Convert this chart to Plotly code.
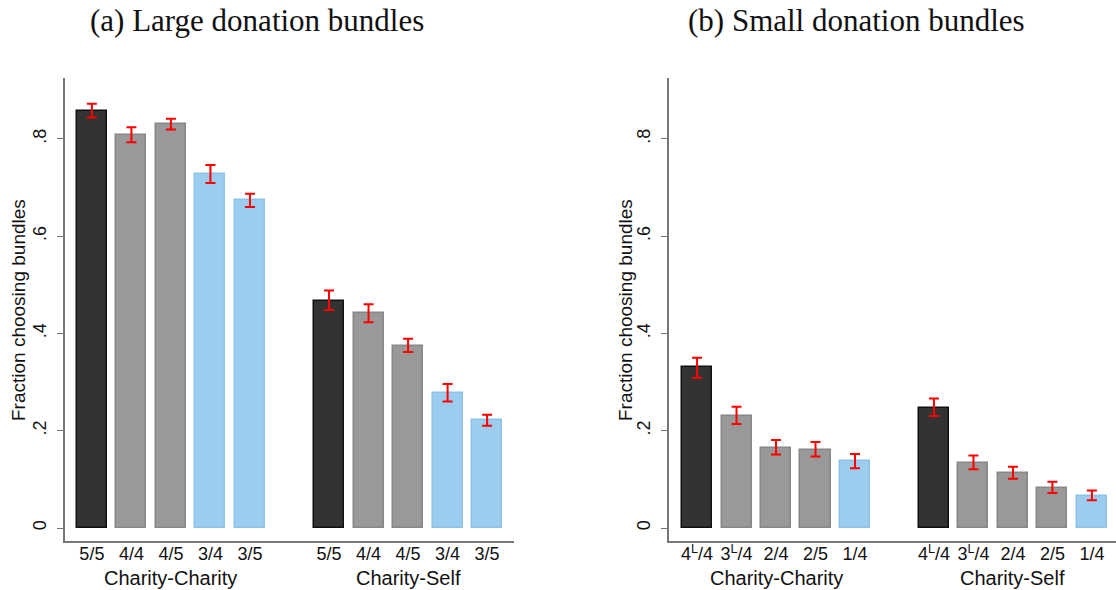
import plotly.graph_objects as go

W, H = 1116, 590

# ---- data ----
groups = ["Charity-Charity", "Charity-Self"]

large_labels = ["5/5", "4/4", "4/5", "3/4", "3/5"]
large_cc = [0.858, 0.808, 0.830, 0.727, 0.674]
large_cc_lo = [0.844, 0.793, 0.819, 0.709, 0.660]
large_cc_hi = [0.872, 0.824, 0.841, 0.746, 0.687]
large_cs = [0.467, 0.441, 0.375, 0.277, 0.221]
large_cs_lo = [0.448, 0.423, 0.362, 0.260, 0.210]
large_cs_hi = [0.488, 0.460, 0.389, 0.296, 0.233]

small_labels = ["4<sup>L</sup>/4", "3<sup>L</sup>/4", "2/4", "2/5", "1/4"]
small_cc = [0.330, 0.231, 0.165, 0.161, 0.137]
small_cc_lo = [0.309, 0.214, 0.151, 0.147, 0.123]
small_cc_hi = [0.350, 0.249, 0.181, 0.177, 0.152]
small_cs = [0.247, 0.134, 0.114, 0.083, 0.066]
small_cs_lo = [0.230, 0.121, 0.101, 0.072, 0.057]
small_cs_hi = [0.266, 0.149, 0.126, 0.095, 0.077]

large_kind = ["top", "mid", "mid", "low", "low"]
small_kind = ["top", "mid", "mid", "mid", "low"]

yticks = [0, 0.2, 0.4, 0.6, 0.8]
yticktext = ["0", ".2", ".4", ".6", ".8"]

# ---- styles ----
FILL = {"top": "#333333", "mid": "#999999", "low": "#9dcdee"}
EDGE = {"top": "#111111", "mid": "#878787", "low": "#8cc3e8"}
SANS = "Liberation Sans, Arial, Helvetica, sans-serif"
SERIF = "Liberation Serif, Times New Roman, serif"

fig = go.Figure()


def add_panel(labels, kinds, series, xa, ya):
    n = len(labels)
    tickvals, ticktext = [], []
    for g, (vals, lo, hi) in enumerate(series):
        xs = [i + g * (n + 1) for i in range(n)]
        tickvals += xs
        ticktext += labels
        fig.add_trace(go.Bar(
            x=xs, y=vals, width=0.76,
            marker=dict(color=[FILL[k] for k in kinds],
                        line=dict(color=[EDGE[k] for k in kinds], width=1.5)),
            error_y=dict(type="data", symmetric=False,
                         array=[h - v for h, v in zip(hi, vals)],
                         arrayminus=[v - l for v, l in zip(vals, lo)],
                         color="#ff0000", thickness=2, width=5),
            xaxis=xa, yaxis=ya, showlegend=False, hoverinfo="y"))
        fig.add_annotation(x=(n - 1) / 2 + g * (n + 1), y=1 - 578 / H,
                           xref=xa, yref="paper", text=groups[g],
                           showarrow=False, font=dict(family=SANS, size=20, color="#111"),
                           xanchor="center", yanchor="middle")
    return tickvals, ticktext


tv1, tt1 = add_panel(large_labels, large_kind,
                     [(large_cc, large_cc_lo, large_cc_hi), (large_cs, large_cs_lo, large_cs_hi)],
                     "x", "y")
tv2, tt2 = add_panel(small_labels, small_kind,
                     [(small_cc, small_cc_lo, small_cc_hi), (small_cs, small_cs_lo, small_cs_hi)],
                     "x2", "y2")

ydom = [1 - 541 / H, 1 - 78 / H]
yrange = [-0.0267, 0.925]
axcol = "#777777"

common_x = dict(showline=True, linecolor=axcol, linewidth=1.5, ticks="", ticklen=0, showgrid=False,
                zeroline=False, tickfont=dict(family=SANS, size=18, color="#111"),
                ticklabelstandoff=-4)
common_y = dict(showline=True, linecolor=axcol, linewidth=1.5, ticks="outside", ticklen=6,
                tickcolor=axcol, tickwidth=1, showgrid=False, zeroline=False,
                range=yrange, domain=ydom, tickvals=yticks, ticktext=yticktext,
                tickangle=-90, tickfont=dict(family=SANS, size=18, color="#111"),
                ticklabelstandoff=4)

fig.update_layout(
    width=W, height=H, margin=dict(l=0, r=0, t=0, b=0),
    paper_bgcolor="white", plot_bgcolor="white", bargap=0,
    xaxis=dict(domain=[65 / W, 514 / W], range=[-0.68, 10.68], tickvals=tv1, ticktext=tt1,
               anchor="y", **common_x),
    xaxis2=dict(domain=[669 / W, 1.0], range=[-0.71, 10.61], tickvals=tv2, ticktext=tt2,
                anchor="y2", **common_x),
    yaxis=dict(anchor="x", **common_y),
    yaxis2=dict(anchor="x2", **common_y),
)

# y-axis titles
for xpx in (18, 625):
    fig.add_annotation(x=xpx / W, y=1 - 310 / H, xref="paper", yref="paper",
                       text="Fraction choosing bundles", textangle=-90, showarrow=False,
                       font=dict(family=SANS, size=19, color="#111"),
                       xanchor="center", yanchor="middle")

# panel titles
for xpx, txt in ((257, "(a) Large donation bundles"), (857, "(b) Small donation bundles")):
    fig.add_annotation(x=xpx / W, y=1 - 21 / H, xref="paper", yref="paper", text=txt,
                       showarrow=False, font=dict(family=SERIF, size=31, color="#111"),
                       xanchor="center", yanchor="middle")

fig.write_html("out.html")
